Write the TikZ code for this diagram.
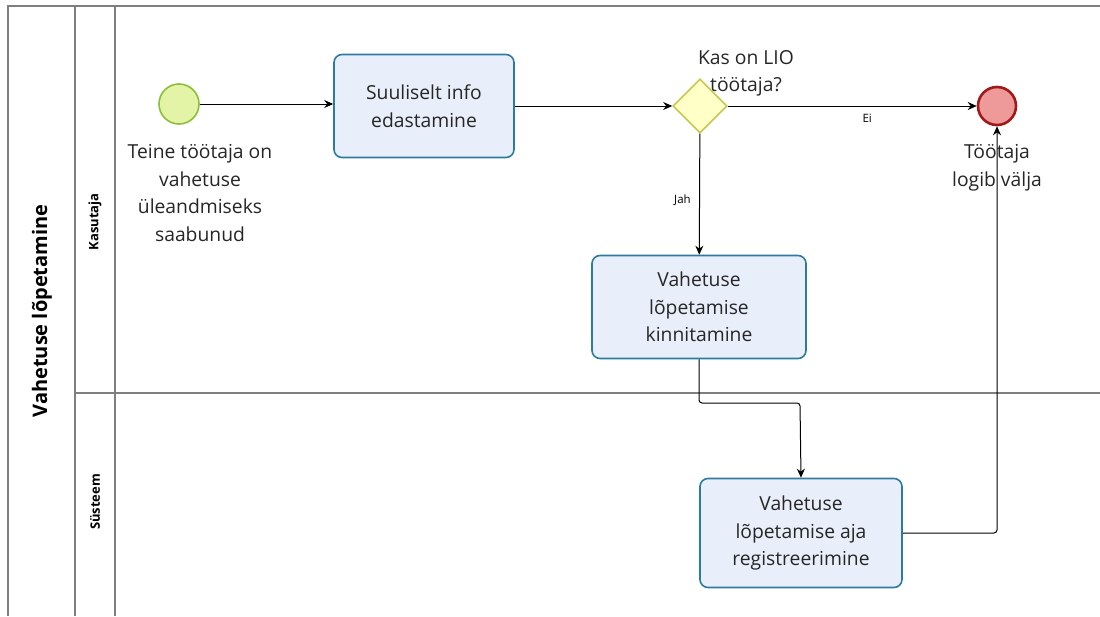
\documentclass[tikz,border=0pt]{standalone}
\usepackage{fontspec}
\setmainfont{Open Sans}
\usetikzlibrary{shapes.geometric,arrows.meta}
\definecolor{lanegray}{HTML}{7F7F7F}
\definecolor{taskfill}{HTML}{E8EEFA}
\definecolor{taskdraw}{HTML}{2E7BA0}
\definecolor{startfill}{HTML}{E4F4A6}
\definecolor{startdraw}{HTML}{8CBF3A}
\definecolor{gwfill}{HTML}{FFFFC8}
\definecolor{gwdraw}{HTML}{C8C850}
\definecolor{endfill}{HTML}{EE9A9A}
\definecolor{enddraw}{HTML}{A01A1A}
\definecolor{txt}{HTML}{262626}
\tikzset{
  lane/.style={draw=lanegray, line width=1.3pt},
  task/.style={draw=taskdraw, fill=taskfill, line width=1.6pt, rounded corners=8pt, align=center, font=\fontsize{19.3}{27.5}\selectfont, text=txt},
  startev/.style={circle, draw=startdraw, fill=startfill, line width=1.6pt, minimum size=40pt, inner sep=0pt},
  endev/.style={circle, draw=enddraw, fill=endfill, line width=2.6pt, minimum size=38pt, inner sep=0pt},
  gw/.style={diamond, draw=gwdraw, fill=gwfill, line width=1.6pt, minimum width=54pt, minimum height=54pt, inner sep=0pt},
  lbl/.style={align=center, font=\fontsize{19.3}{27.5}\selectfont, text=txt},
  small/.style={font=\fontsize{11.5}{13}\selectfont},
  flow/.style={draw=black, line width=1pt, -{Stealth[length=9pt,width=8pt]}, rounded corners=3pt},
}
\begin{document}
\begin{tikzpicture}[x=1pt,y=-1pt]
\useasboundingbox (0,0) rectangle (1100,616);
\fill[white] (0,0) rectangle (1100,616);
% pool and lanes
\draw[lane] (8,616) -- (8,6) -- (1100,6);
\draw[lane] (75,6) -- (75,616);
\draw[lane] (115,6) -- (115,616);
\draw[lane] (75,393) -- (1100,393);
\node[rotate=90, font=\fontsize{20}{22}\selectfont\bfseries] (pool) at (42,311) {Vahetuse lõpetamine};
\node[rotate=90, font=\fontsize{13}{15}\selectfont\bfseries] (lane1) at (95,222) {Kasutaja};
\node[rotate=90, font=\fontsize{13}{15}\selectfont\bfseries] (lane2) at (95,502) {Süsteem};
% nodes
\node[startev] (start) at (179,104) {};
\node[lbl, anchor=north] (startlbl) at (200,141) {Teine töötaja on\\vahetuse\\üleandmiseks\\saabunud};
\node[task, minimum width=180pt, minimum height=103pt] (t1) at (424,106) {Suuliselt info\\edastamine};
\node[gw] (gw) at (700,106) {};
\node[lbl, anchor=south] (gwlbl) at (746,100) {Kas on LIO\\töötaja?};
\node[endev] (end) at (997,106) {};
\node[task, minimum width=214pt, minimum height=103pt] (t2) at (699,307) {Vahetuse\\lõpetamise\\kinnitamine};
\node[task, minimum width=202pt, minimum height=109pt] (t3) at (801,533) {Vahetuse\\lõpetamise aja\\registreerimine};
% flows
\draw[flow] (start) -- (start -| t1.west);
\draw[flow] (t1.east |- gw) -- (gw);
\draw[flow] (gw) -- node[pos=0.56, below=4pt, small] (ei) {Ei} (end);
\draw[flow] (gw) -- node[pos=0.55, left=5pt, small] (jah) {Jah} (t2);
\draw[flow] (t2.south) |- (800,403) -- (t3.north);
\draw[flow] (t3.east) -| (end.south);
\node[lbl, anchor=north] (endlbl) at (997,141) {Töötaja\\logib välja};
\end{tikzpicture}
\end{document}
